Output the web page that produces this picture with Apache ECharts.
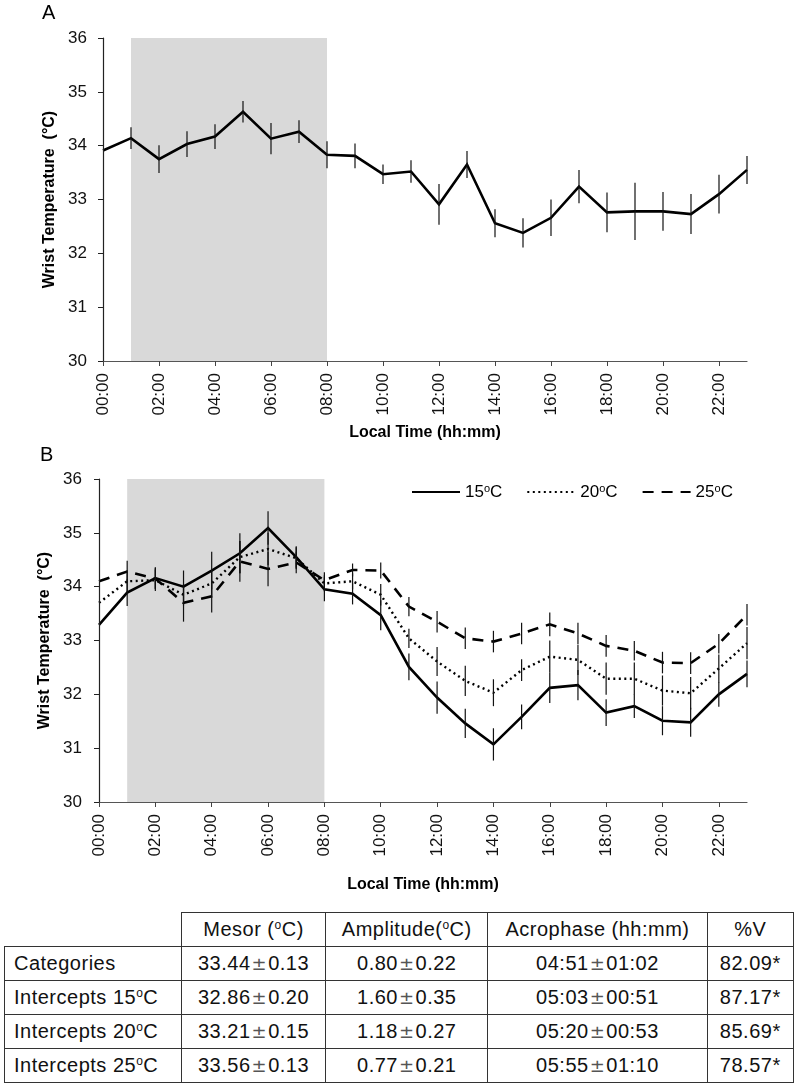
<!DOCTYPE html>
<html>
<head>
<meta charset="utf-8">
<script src="https://cdn.jsdelivr.net/npm/echarts@6/dist/echarts.min.js"></script>
<style>
  html, body { margin: 0; padding: 0; background: #fff; }
  #chart { position: absolute; left: 0; top: 0; width: 794px; height: 905px; }
  #tbl { position: absolute; left: 4px; top: 912px; border-collapse: collapse;
         font-family: 'Liberation Sans', Arial, sans-serif; font-size: 20px; color: #111; letter-spacing: 0.5px; }
  #tbl td { border: 1.5px solid #333; height: 33px; padding: 0; text-align: center; white-space: nowrap; }
  #tbl td.first { text-align: left; padding-left: 9px; }
  #tbl tr.hdr td.blank { border-top: none; border-left: none; }
  #tbl sup { font-size: 12px; vertical-align: 7px; line-height: 0; }
  .pm { color: #555; font-family: 'DejaVu Sans', sans-serif; font-size: 18px; padding: 0 1px; }
</style>
</head>
<body>
<div id="chart"></div>
<table id="tbl"></table>
<script>
// ---------- data ----------
const hours = ['00:00','01:00','02:00','03:00','04:00','05:00','06:00','07:00','08:00','09:00','10:00','11:00',
               '12:00','13:00','14:00','15:00','16:00','17:00','18:00','19:00','20:00','21:00','22:00','23:00'];
const yTicks = [30, 31, 32, 33, 34, 35, 36];
const shadeFrom = '01:00';
const shadeTo = '08:00';

// Panel A: all categories
const meanA = [33.91, 34.14, 33.75, 34.03, 34.17, 34.63, 34.13, 34.26, 33.83, 33.81, 33.47, 33.52,
               32.91, 33.65, 32.56, 32.38, 32.66, 33.24, 32.76, 32.78, 32.78, 32.73, 33.10, 33.55];
const errA  = [0, 0.20, 0.26, 0.24, 0.23, 0.20, 0.29, 0.21, 0.25, 0.23, 0.18, 0.21,
               0.38, 0.25, 0.26, 0.27, 0.34, 0.31, 0.37, 0.53, 0.36, 0.37, 0.36, 0.26];

// Panel B: intercepts by ambient temperature
const mean15 = [33.29, 33.89, 34.16, 34.00, 34.30, 34.62, 35.09, 34.55, 33.95, 33.87, 33.47, 32.51,
                31.94, 31.46, 31.07, 31.58, 32.12, 32.17, 31.66, 31.78, 31.51, 31.48, 32.00, 32.38];
const err15  = [0, 0.25, 0.20, 0.30, 0.35, 0.37, 0.31, 0.20, 0.22, 0.20, 0.28, 0.25,
                0.30, 0.27, 0.30, 0.23, 0.28, 0.28, 0.25, 0.22, 0.27, 0.27, 0.23, 0.25];
const mean20 = [33.70, 34.10, 34.12, 33.85, 34.06, 34.55, 34.70, 34.53, 34.06, 34.10, 33.85, 33.04,
                32.61, 32.25, 32.03, 32.45, 32.70, 32.64, 32.29, 32.29, 32.07, 32.02, 32.48, 32.95];
const err20  = [0, 0.20, 0.20, 0.20, 0.25, 0.30, 0.30, 0.20, 0.15, 0.15, 0.20, 0.18,
                0.27, 0.28, 0.25, 0.20, 0.30, 0.28, 0.30, 0.30, 0.28, 0.30, 0.26, 0.30];
const mean25 = [34.10, 34.28, 34.15, 33.70, 33.82, 34.47, 34.33, 34.45, 34.12, 34.31, 34.30, 33.63,
                33.35, 33.04, 32.98, 33.13, 33.30, 33.13, 32.90, 32.81, 32.59, 32.58, 32.94, 33.48];
const err25  = [0, 0.20, 0.20, 0.35, 0.30, 0.38, 0.32, 0.20, 0.15, 0.12, 0.15, 0.18,
                0.20, 0.20, 0.20, 0.20, 0.22, 0.20, 0.20, 0.18, 0.20, 0.20, 0.18, 0.20];
const seriesNames = ['15°C', '20°C', '25°C'];

// Table
const tableHeader = ['', 'Mesor (<sup>o</sup>C)', 'Amplitude(<sup>o</sup>C)', 'Acrophase (hh:mm)', '%V'];
const rowLabels = ['Categories', 'Intercepts 15<sup>o</sup>C', 'Intercepts 20<sup>o</sup>C', 'Intercepts 25<sup>o</sup>C'];
const mesor = [['33.44','0.13'], ['32.86','0.20'], ['33.21','0.15'], ['33.56','0.13']];
const amplitude = [['0.80','0.22'], ['1.60','0.35'], ['1.18','0.27'], ['0.77','0.21']];
const acrophase = [['04:51','01:02'], ['05:03','00:51'], ['05:20','00:53'], ['05:55','01:10']];
const pctV = ['82.09*', '87.17*', '85.69*', '78.57*'];

// ---------- chart ----------
const FONT = "'Liberation Sans', Arial, sans-serif";
const errData = (m, e) => m.map((v, i) => [i, +(v - e[i]).toFixed(3), +(v + e[i]).toFixed(3), e[i]]);

function errRender(params, api) {
  if (api.value(3) === 0) return null;
  const x = api.value(0);
  const lo = api.coord([x, api.value(1)]);
  const hi = api.coord([x, api.value(2)]);
  return { type: 'line', shape: { x1: lo[0], y1: lo[1], x2: hi[0], y2: hi[1] },
           style: { stroke: '#111', lineWidth: 1.2 } };
}

function xAxisCfg(gi, nameGap) {
  return {
    type: 'category', gridIndex: gi, data: hours, boundaryGap: false, z: 5,
    name: 'Local Time (hh:mm)', nameLocation: 'middle', nameGap: nameGap,
    nameTextStyle: { fontFamily: FONT, fontSize: 16, fontWeight: 'bold', color: '#000' },
    axisLine: { show: true, lineStyle: { color: '#555', width: 1.2 } },
    axisTick: { show: true, interval: 1, length: 5, lineStyle: { color: '#444' } },
    axisLabel: { interval: 1, rotate: 90, margin: 12, fontFamily: FONT, fontSize: 17, color: '#111' },
    splitLine: { show: false }
  };
}
function yAxisCfg(gi, nameGap, margin) {
  return {
    type: 'value', gridIndex: gi, min: yTicks[0], max: yTicks[yTicks.length - 1], interval: 1, z: 5,
    name: 'Wrist Temperature  (°C)', nameLocation: 'middle', nameGap: nameGap,
    nameTextStyle: { fontFamily: FONT, fontSize: 16, fontWeight: 'bold', color: '#000' },
    axisLine: { show: true, lineStyle: { color: '#222', width: 1.2 } },
    axisTick: { show: true, length: 5, lineStyle: { color: '#222' } },
    axisLabel: { margin: margin, fontFamily: FONT, fontSize: 17, color: '#111' },
    splitLine: { show: false }
  };
}
const shade = (xi, yi) => ({
  type: 'line', xAxisIndex: xi, yAxisIndex: yi, data: [], z: 1, silent: true,
  markArea: { silent: true, itemStyle: { color: '#d9d9d9' },
    data: [[{ xAxis: shadeFrom, yAxis: yTicks[yTicks.length - 1] }, { xAxis: shadeTo, yAxis: yTicks[0] }]] }
});
const lineS = (name, data, xi, yi, type, width) => ({
  name: name, type: 'line', xAxisIndex: xi, yAxisIndex: yi, data: data, symbol: 'none',
  z: 3, animation: false, lineStyle: { color: '#000', width: width, type: type, cap: 'butt', join: 'miter' },
  itemStyle: { color: '#000' }
});
const errS = (m, e, xi, yi) => ({
  type: 'custom', xAxisIndex: xi, yAxisIndex: yi, data: errData(m, e), renderItem: errRender,
  encode: { x: 0, y: [1, 2] }, z: 4, silent: true, animation: false
});

const chart = echarts.init(document.getElementById('chart'), null, { renderer: 'canvas' });
chart.setOption({
  animation: false,
  backgroundColor: '#fff',
  textStyle: { fontFamily: FONT },
  title: [
    { text: 'A', left: 42, top: 3, padding: 0, textStyle: { fontFamily: FONT, fontSize: 20, fontWeight: 'normal', color: '#000' } },
    { text: 'B', left: 40, top: 445, padding: 0, textStyle: { fontFamily: FONT, fontSize: 20, fontWeight: 'normal', color: '#000' } }
  ],
  legend: {
    data: seriesNames, left: 411, top: 483, padding: 0, itemWidth: 48, itemHeight: 14, itemGap: 24,
    itemStyle: { opacity: 0 },
    formatter: n => '{n|' + n.replace('°C', '') + '}{s|o}{n|C}',
    textStyle: { color: '#000', fontFamily: FONT, fontSize: 17,
      rich: { n: { fontSize: 17, fontFamily: FONT, color: '#000', lineHeight: 18, verticalAlign: 'bottom' },
              s: { fontSize: 11, fontFamily: FONT, color: '#000', lineHeight: 10, verticalAlign: 'top' } } }
  },
  grid: [
    { left: 103, right: 47, top: 38, height: 323 },
    { left: 99, right: 47, top: 479, height: 323 }
  ],
  xAxis: [xAxisCfg(0, 64), xAxisCfg(1, 75)],
  yAxis: [yAxisCfg(0, 44, 16), yAxisCfg(1, 45, 17)],
  series: [
    shade(0, 0),
    shade(1, 1),
    lineS('A', meanA, 0, 0, 'solid', 2.6),
    errS(meanA, errA, 0, 0),
    lineS(seriesNames[0], mean15, 1, 1, 'solid', 2.6),
    lineS(seriesNames[1], mean20, 1, 1, [2, 3.5], 2.4),
    lineS(seriesNames[2], mean25, 1, 1, [11, 8], 2.6),
    errS(mean15, err15, 1, 1),
    errS(mean20, err20, 1, 1),
    errS(mean25, err25, 1, 1)
  ]
});

// ---------- table ----------
const colW = [177, 144, 162, 219, 86];
const pm = (a, b) => a + '<span class="pm">±</span>' + b;
let html = '<tr class="hdr">' + tableHeader.map((h, i) =>
  '<td' + (i === 0 ? ' class="blank"' : '') + ' style="width:' + colW[i] + 'px">' + h + '</td>').join('') + '</tr>';
rowLabels.forEach((r, i) => {
  html += '<tr><td class="first">' + r + '</td><td>' + pm(mesor[i][0], mesor[i][1]) + '</td><td>' +
          pm(amplitude[i][0], amplitude[i][1]) + '</td><td>' + pm(acrophase[i][0], acrophase[i][1]) +
          '</td><td>' + pctV[i] + '</td></tr>';
});
document.getElementById('tbl').innerHTML = html;
</script>
</body>
</html>
